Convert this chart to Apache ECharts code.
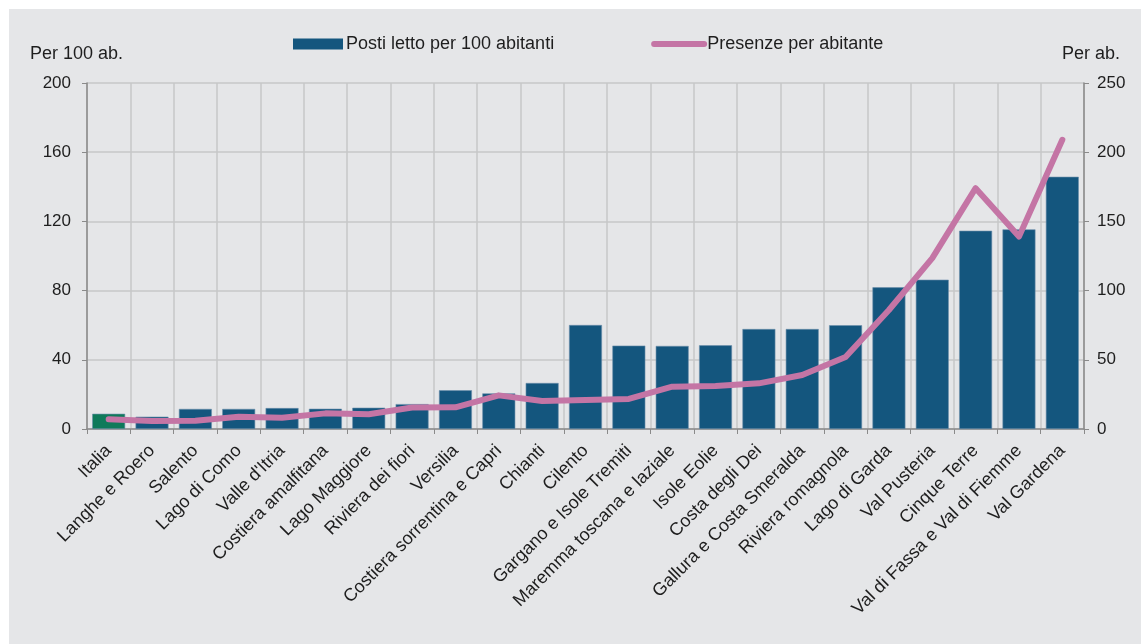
<!DOCTYPE html>
<html>
<head>
<meta charset="utf-8">
<script src="https://cdn.jsdelivr.net/npm/echarts@6/dist/echarts.min.js"></script>
<style>
  html, body { margin: 0; padding: 0; background: #ffffff; }
  #chart { position: absolute; left: 9px; top: 9px; width: 1132px; height: 635px; }
</style>
</head>
<body>
<div id="chart"></div>
<script>
const categories = [
  "Italia", "Langhe e Roero", "Salento", "Lago di Como", "Valle d'Itria",
  "Costiera amalfitana", "Lago Maggiore", "Riviera dei fiori", "Versilia",
  "Costiera sorrentina e Capri", "Chianti", "Cilento", "Gargano e Isole Tremiti",
  "Maremma toscana e laziale", "Isole Eolie", "Costa degli Dei",
  "Gallura e Costa Smeralda", "Riviera romagnola", "Lago di Garda",
  "Val Pusteria", "Cinque Terre", "Val di Fassa e Val di Fiemme", "Val Gardena"
];
// posti letto per 100 abitanti (asse sinistro)
const postiLetto = [8.8, 7.1, 11.6, 11.6, 12.1, 11.7, 12.3, 14.4, 22.4, 20.6, 26.6,
  60.1, 48.2, 48.0, 48.4, 57.8, 57.8, 60.0, 81.9, 86.3, 114.6, 115.4, 145.8];
// presenze per abitante (asse destro)
const presenze = [7, 5.8, 6, 8.9, 8.2, 11.3, 10.6, 15.5, 15.7, 24.3, 20.2,
  21, 21.7, 30.6, 31, 33, 39, 52, 86, 123.5, 174, 139, 209];
const leftTicks = { min: 0, max: 200, interval: 40 };
const rightTicks = { min: 0, max: 250, interval: 50 };

const barColor = '#14567e';
const italiaColor = '#0f7a5a';
const lineColor = '#c475a5';
const textColor = '#1e1e1e';
const font = 'Liberation Sans, Arial, sans-serif';

const chart = echarts.init(document.getElementById('chart'));
chart.setOption({
  backgroundColor: '#e5e6e8',
  animation: false,
  textStyle: { fontFamily: font, color: textColor },
  legend: {
    top: 21,
    left: 279,
    itemWidth: 50,
    itemHeight: 11,
    itemGap: 97,
    textStyle: { fontSize: 18, color: textColor, padding: [0, 0, 0, -2] },
    data: [
      { name: 'Posti letto per 100 abitanti', icon: 'rect', itemStyle: { borderWidth: 0 } },
      { name: 'Presenze per abitante', itemStyle: { opacity: 0 }, lineStyle: { width: 6, cap: 'round' } }
    ]
  },
  graphic: [
    { type: 'text', left: 21, top: 36, style: { text: 'Per 100 ab.', fontSize: 18, fontFamily: font, fill: textColor } },
    { type: 'text', left: 1053, top: 36, style: { text: 'Per ab.', fontSize: 18, fontFamily: font, fill: textColor } }
  ],
  grid: { left: 78, right: 57, top: 74, bottom: 215 },
  xAxis: {
    type: 'category',
    data: categories,
    axisLine: { lineStyle: { color: '#8a8a8a', width: 1.5 } },
    axisTick: { show: true, length: 5, lineStyle: { color: '#8a8a8a' } },
    splitLine: { show: true, interval: 0, lineStyle: { color: '#c6c7c9', width: 1.5 } },
    axisLabel: { interval: 0, rotate: 45, fontSize: 18, color: textColor, margin: 19 }
  },
  yAxis: [
    {
      type: 'value',
      min: leftTicks.min, max: leftTicks.max, interval: leftTicks.interval,
      axisLine: { show: true, lineStyle: { color: '#8a8a8a', width: 1.5 } },
      axisTick: { show: true, length: 5, lineStyle: { color: '#8a8a8a' } },
      splitLine: { show: true, lineStyle: { color: '#c6c7c9', width: 1.5 } },
      axisLabel: { fontSize: 17, color: textColor, margin: 16 }
    },
    {
      type: 'value',
      min: rightTicks.min, max: rightTicks.max, interval: rightTicks.interval,
      axisLine: { show: true, lineStyle: { color: '#8a8a8a', width: 1.5 } },
      axisTick: { show: true, length: 5, lineStyle: { color: '#8a8a8a' } },
      splitLine: { show: false },
      axisLabel: { fontSize: 17, color: textColor, margin: 13 }
    }
  ],
  series: [
    {
      name: 'Posti letto per 100 abitanti',
      type: 'bar',
      yAxisIndex: 0,
      barCategoryGap: '24%',
      itemStyle: { color: barColor, borderColor: '#6b8fab', borderWidth: 0.6 },
      data: postiLetto.map((v, i) => i === 0 ? { value: v, itemStyle: { color: italiaColor } } : v)
    },
    {
      name: 'Presenze per abitante',
      type: 'line',
      yAxisIndex: 1,
      symbol: 'none',
      z: 5,
      lineStyle: { color: lineColor, width: 6, cap: 'round', join: 'round' },
      itemStyle: { color: lineColor },
      data: presenze
    }
  ]
});
</script>
</body>
</html>
